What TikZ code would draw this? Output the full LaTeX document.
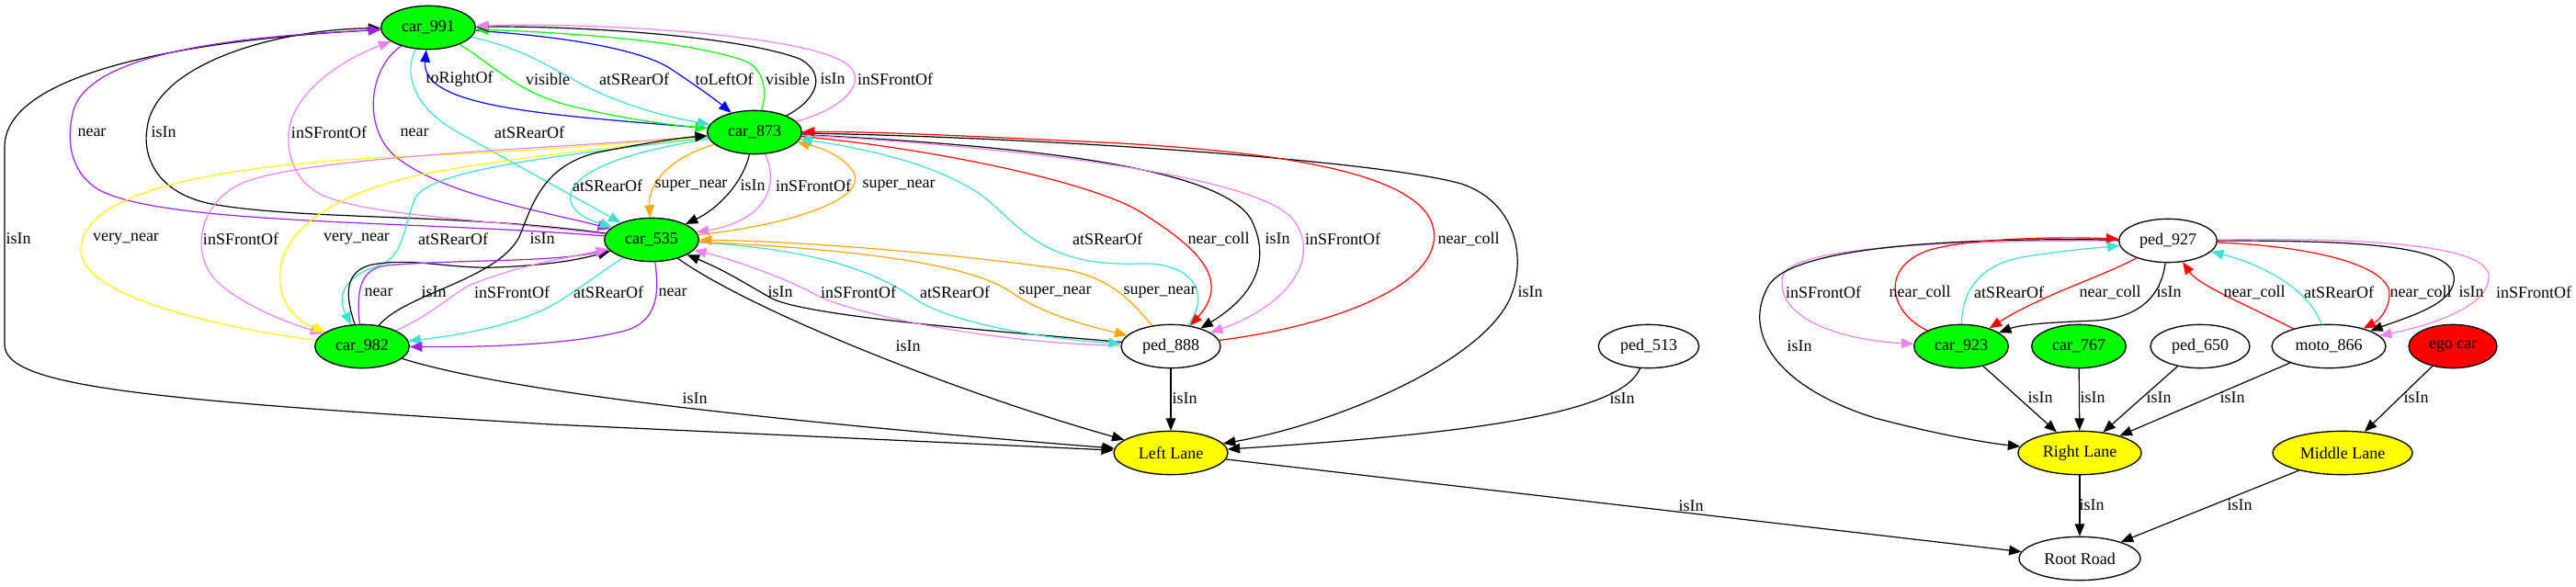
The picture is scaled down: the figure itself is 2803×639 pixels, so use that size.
\documentclass[tikz,border=0pt]{standalone}
\usepackage{fontspec}
\setmainfont{Liberation Serif}
\usetikzlibrary{shapes.geometric,arrows.meta}
\definecolor{gvgreen}{HTML}{00FF00}
\definecolor{gvyellow}{HTML}{FFFF00}
\definecolor{gvred}{HTML}{FF0000}
\definecolor{ecyan}{HTML}{40E0D0}
\definecolor{eviolet}{HTML}{EE82EE}
\definecolor{epurple}{HTML}{A020F0}
\definecolor{eorange}{HTML}{FFA500}
\definecolor{eblue}{HTML}{0000FF}
\begin{document}
\begin{tikzpicture}[x=0.75pt,y=-0.75pt,
  nd/.style={ellipse, draw=black, line width=1pt, inner sep=0pt, minimum height=35.5pt, font=\fontsize{13.5}{15}\selectfont},
  carn/.style={nd, fill=gvgreen, minimum width=77pt},
  pedn/.style={nd, fill=white, minimum width=81pt},
  lanen/.style={nd, fill=gvyellow},
  egon/.style={nd, fill=gvred, minimum width=72pt},
  roadn/.style={nd, fill=white, minimum width=99pt},
  edg/.style={line width=0.9pt, -{Triangle[length=10pt,width=8pt]}},
  lbl/.style={inner sep=0pt, font=\fontsize{13.5}{15}\selectfont}]
\fill[white] (0,0) rectangle (2803,639);
\useasboundingbox (0,0) rectangle (2803,639);

% nodes
\node[carn] (c991) at (466,30) {car\_991};
\node[carn] (c873) at (821,144) {car\_873};
\node[carn] (c535) at (709,261) {car\_535};
\node[carn] (c982) at (394,377) {car\_982};
\node[pedn] (p888) at (1274,377) {ped\_888};
\node[lanen, minimum width=93pt] (LL) at (1274,493) {Left Lane};
\node[pedn, minimum width=82pt] (p513) at (1794,377) {ped\_513};
\node[pedn, minimum width=80pt] (p927) at (2359,262) {ped\_927};
\node[carn] (c923) at (2134,377) {car\_923};
\node[carn] (c767) at (2262,377) {car\_767};
\node[pedn] (p650) at (2394,377) {ped\_650};
\node[pedn, minimum width=93pt] (m866) at (2534,377) {moto\_866};
\node[egon] (ego) at (2669,377) {ego car};
\node[lanen, minimum width=100.5pt] (RL) at (2263,493) {Right Lane};
\node[lanen, minimum width=114pt] (ML) at (2549,493) {Middle Lane};
\node[roadn] (RR) at (2263,608) {Root Road};

% edges around car_991
\draw[edg] (c991) .. controls (250,40) and (5,70) .. (5,160) -- (5,375) .. controls (5,420) and (150,435) .. (600,462) -- (LL);
\draw[edg] (c535) .. controls (500,232) and (330,240) .. (230,222) .. controls (170,210) and (155,170) .. (160,140) .. controls (168,70) and (300,32) .. (c991);
\draw[edg, epurple] (c535) .. controls (450,240) and (170,245) .. (105,205) .. controls (75,185) and (72,150) .. (80,120) .. controls (100,50) and (300,38) .. (c991);
\draw[edg, eviolet] (c535) .. controls (520,238) and (400,235) .. (350,212) .. controls (315,195) and (308,155) .. (318,128) .. controls (333,90) and (380,62) .. (c991);
\draw[edg, epurple] (c991) .. controls (400,75) and (395,140) .. (430,170) .. controls (480,212) and (600,232) .. (c535);
\draw[edg, ecyan] (c991) .. controls (440,75) and (445,115) .. (500,145) .. controls (560,178) and (635,220) .. (c535);
\draw[edg, eblue] (c873) .. controls (600,125) and (458,118) .. (c991);
\draw[edg, gvgreen] (c991) .. controls (530,65) and (560,100) .. (620,115) .. controls (680,130) and (730,136) .. (c873);
\draw[edg, ecyan] (c991) .. controls (580,55) and (610,82) .. (650,100) .. controls (690,118) and (730,128) .. (c873);
\draw[edg, eblue] (c991) .. controls (620,40) and (700,55) .. (730,75) .. controls (760,95) and (778,108) .. (c873);
\draw[edg, gvgreen] (c873) .. controls (835,100) and (832,75) .. (810,66) .. controls (740,42) and (600,35) .. (c991);
\draw[edg] (c873) .. controls (890,108) and (900,80) .. (870,64) .. controls (800,38) and (620,28) .. (c991);
\draw[edg, eviolet] (c873) .. controls (920,118) and (945,88) .. (922,70) .. controls (880,38) and (650,24) .. (c991);

% car_873 <-> car_535
\draw[edg, ecyan] (c873) .. controls (680,165) and (610,190) .. (622,222) .. controls (630,238) and (650,242) .. (c535);
\draw[edg, eorange] (c873) .. controls (728,172) and (705,200) .. (c535);
\draw[edg] (c873) .. controls (808,200) and (780,228) .. (c535);
\draw[edg, eviolet] (c873) .. controls (848,200) and (835,240) .. (c535);
\draw[edg, eorange] (c535) .. controls (860,245) and (955,215) .. (925,182) .. controls (910,166) and (890,160) .. (c873);

% car_873 <-> car_982
\draw[edg, gvyellow] (c982) .. controls (250,358) and (85,325) .. (88,270) .. controls (92,205) and (250,178) .. (450,170) .. controls (600,164) and (720,152) .. (c873);
\draw[edg, eviolet] (c873) .. controls (600,162) and (330,170) .. (262,200) .. controls (215,222) and (205,280) .. (240,310) .. controls (270,335) and (310,350) .. (c982);
\draw[edg, gvyellow] (c873) .. controls (650,162) and (480,180) .. (420,200) .. controls (330,228) and (300,270) .. (305,310) .. controls (308,335) and (325,350) .. (c982);
\draw[edg, ecyan] (c873) .. controls (600,170) and (470,185) .. (452,215) .. controls (438,250) and (440,280) .. (410,290) .. controls (378,300) and (365,320) .. (c982);
\draw[edg] (c982) .. controls (440,320) and (540,305) .. (565,258) .. controls (580,220) and (592,180) .. (650,166) .. controls (700,156) and (740,150) .. (c873);

% car_982 <-> car_535
\draw[edg] (c982) .. controls (375,320) and (375,295) .. (405,288) .. controls (450,280) and (490,293) .. (540,291) .. controls (590,289) and (625,284) .. (c535);
\draw[edg, epurple] (c982) .. controls (388,320) and (390,293) .. (420,289) .. controls (500,282) and (600,286) .. (c535);
\draw[edg, eviolet] (c982) .. controls (470,342) and (490,322) .. (510,311) .. controls (560,290) and (610,282) .. (c535);
\draw[edg, ecyan] (c535) .. controls (640,305) and (612,330) .. (580,342) .. controls (540,358) and (490,366) .. (c982);
\draw[edg, epurple] (c535) .. controls (718,320) and (715,350) .. (680,360) .. controls (620,376) and (520,378) .. (c982);

% car_535 <-> ped_888
\draw[edg] (p888) .. controls (1100,362) and (880,345) .. (840,325) .. controls (810,308) and (790,295) .. (c535);
\draw[edg, eviolet] (p888) .. controls (1080,374) and (930,342) .. (890,322) .. controls (860,305) and (800,283) .. (c535);
\draw[edg, ecyan] (c535) .. controls (900,272) and (960,300) .. (1000,328) .. controls (1045,355) and (1150,370) .. (p888);
\draw[edg, eorange] (c535) .. controls (950,272) and (1060,290) .. (1100,318) .. controls (1140,345) and (1190,356) .. (p888);
\draw[edg, eorange] (p888) .. controls (1232,330) and (1210,300) .. (1150,292) .. controls (1000,272) and (850,262) .. (c535);

% to Left Lane
\draw[edg] (c535) .. controls (820,340) and (1050,430) .. (LL);
\draw[edg] (c982) .. controls (550,425) and (800,455) .. (LL);
\draw[edg] (p888) -- (LL);
\draw[edg] (p513) .. controls (1765,450) and (1600,472) .. (LL);
\draw[edg] (c873) .. controls (1150,150) and (1500,175) .. (1590,200) .. controls (1650,220) and (1660,280) .. (1645,320) .. controls (1620,390) and (1460,460) .. (LL);

% car_873 <-> ped_888
\draw[edg, gvred] (c873) .. controls (1000,160) and (1180,195) .. (1240,230) .. controls (1290,262) and (1345,300) .. (p888);
\draw[edg] (c873) .. controls (1100,158) and (1330,180) .. (1362,240) .. controls (1385,288) and (1360,325) .. (p888);
\draw[edg, eviolet] (c873) .. controls (1100,160) and (1370,190) .. (1408,240) .. controls (1440,285) and (1395,335) .. (p888);
\draw[edg, gvred] (p888) .. controls (1450,355) and (1570,310) .. (1560,250) .. controls (1550,190) and (1400,165) .. (1200,155) .. controls (1050,148) and (950,143) .. (c873);
\draw[edg, ecyan] (p888) .. controls (1318,322) and (1300,285) .. (1240,287) .. controls (1150,290) and (1120,260) .. (1080,222) .. controls (1030,178) and (930,160) .. (c873);

\draw[edg] (LL) -- (RR);

% right cluster
\draw[edg, eviolet] (p927) .. controls (2100,262) and (1950,270) .. (1940,300) .. controls (1930,345) and (2000,370) .. (c923);
\draw[edg] (p927) .. controls (2100,258) and (1950,272) .. (1925,310) .. controls (1895,360) and (1930,420) .. (2040,455) .. controls (2120,476) and (2170,483) .. (RL);
\draw[edg, gvred] (c923) .. controls (2055,340) and (2045,290) .. (2100,272) .. controls (2150,258) and (2250,258) .. (p927);
\draw[edg, ecyan] (c923) .. controls (2135,320) and (2150,290) .. (2200,280) .. controls (2250,272) and (2280,270) .. (p927);
\draw[edg, gvred] (p927) .. controls (2290,300) and (2220,322) .. (c923);
\draw[edg] (p927) .. controls (2352,320) and (2330,346) .. (2280,349) .. controls (2230,351) and (2200,353) .. (c923);
\draw[edg, gvred] (m866) .. controls (2440,330) and (2392,310) .. (p927);
\draw[edg, ecyan] (m866) .. controls (2515,320) and (2470,290) .. (p927);
\draw[edg, gvred] (p927) .. controls (2520,268) and (2600,290) .. (2600,320) .. controls (2600,335) and (2590,348) .. (m866);
\draw[edg] (p927) .. controls (2550,262) and (2665,265) .. (2670,300) .. controls (2675,330) and (2620,345) .. (m866);
\draw[edg, eviolet] (p927) .. controls (2600,258) and (2706,270) .. (2708,300) .. controls (2710,335) and (2640,355) .. (m866);

\draw[edg] (c923) -- (RL);
\draw[edg] (c767) -- (RL);
\draw[edg] (p650) -- (RL);
\draw[edg] (m866) -- (RL);
\draw[edg] (ego) -- (ML);
\draw[edg] (RL) -- (RR);
\draw[edg] (ML) -- (RR);

% labels
\node[lbl] (l1) at (20,260) {isIn};
\node[lbl] (l2) at (178,144) {isIn};
\node[lbl] (l3) at (100,144) {near};
\node[lbl] (l4) at (358,144) {inSFrontOf};
\node[lbl] (l5) at (451,144) {near};
\node[lbl] (l6) at (576,144) {atSRearOf};
\node[lbl] (l7) at (500,86) {toRightOf};
\node[lbl] (l8) at (596,86) {visible};
\node[lbl] (l9) at (690,86) {atSRearOf};
\node[lbl] (l10) at (788,86) {toLeftOf};
\node[lbl] (l11) at (857,86) {visible};
\node[lbl] (l12) at (906,86) {isIn};
\node[lbl] (l13) at (974,86) {inSFrontOf};
\node[lbl] (l14) at (661,202) {atSRearOf};
\node[lbl] (l15) at (752,202) {super\_near};
\node[lbl] (l16) at (819,202) {isIn};
\node[lbl] (l17) at (885,202) {inSFrontOf};
\node[lbl] (l18) at (978,202) {super\_near};
\node[lbl] (l19) at (137,260) {very\_near};
\node[lbl] (l20) at (262,260) {inSFrontOf};
\node[lbl] (l21) at (388,260) {very\_near};
\node[lbl] (l22) at (493,260) {atSRearOf};
\node[lbl] (l23) at (590,260) {isIn};
\node[lbl] (l24) at (472,318) {isIn};
\node[lbl] (l25) at (412,318) {near};
\node[lbl] (l26) at (557,318) {inSFrontOf};
\node[lbl] (l27) at (662,318) {atSRearOf};
\node[lbl] (l28) at (732,318) {near};
\node[lbl] (l29) at (849,318) {isIn};
\node[lbl] (l30) at (934,318) {inSFrontOf};
\node[lbl] (l31) at (1039,318) {atSRearOf};
\node[lbl] (l32) at (1148,318) {super\_near};
\node[lbl] (l33) at (1262,318) {super\_near};
\node[lbl] (l34) at (988,377) {isIn};
\node[lbl] (l35) at (756,434) {isIn};
\node[lbl] (l36) at (1289,434) {isIn};
\node[lbl] (l37) at (1765,434) {isIn};
\node[lbl] (l38) at (1665,318) {isIn};
\node[lbl] (l39) at (1326,260) {near\_coll};
\node[lbl] (l40) at (1390,260) {isIn};
\node[lbl] (l41) at (1461,260) {inSFrontOf};
\node[lbl] (l42) at (1598,260) {near\_coll};
\node[lbl] (l43) at (1205,260) {atSRearOf};
\node[lbl] (l44) at (1984,318) {inSFrontOf};
\node[lbl] (l45) at (1958,377) {isIn};
\node[lbl] (l46) at (2089,318) {near\_coll};
\node[lbl] (l47) at (2186,318) {atSRearOf};
\node[lbl] (l48) at (2296,318) {near\_coll};
\node[lbl] (l49) at (2360,318) {isIn};
\node[lbl] (l50) at (2453,318) {near\_coll};
\node[lbl] (l51) at (2545,318) {atSRearOf};
\node[lbl] (l52) at (2634,318) {near\_coll};
\node[lbl] (l53) at (2689,318) {isIn};
\node[lbl] (l54) at (2757,318) {inSFrontOf};
\node[lbl] (l55) at (2220,433) {isIn};
\node[lbl] (l56) at (2277,433) {isIn};
\node[lbl] (l57) at (2349,433) {isIn};
\node[lbl] (l58) at (2429,433) {isIn};
\node[lbl] (l59) at (2629,433) {isIn};
\node[lbl] (l60) at (2276,550) {isIn};
\node[lbl] (l61) at (2437,550) {isIn};
\node[lbl] (l62) at (1840,551) {isIn};
\end{tikzpicture}
\end{document}
